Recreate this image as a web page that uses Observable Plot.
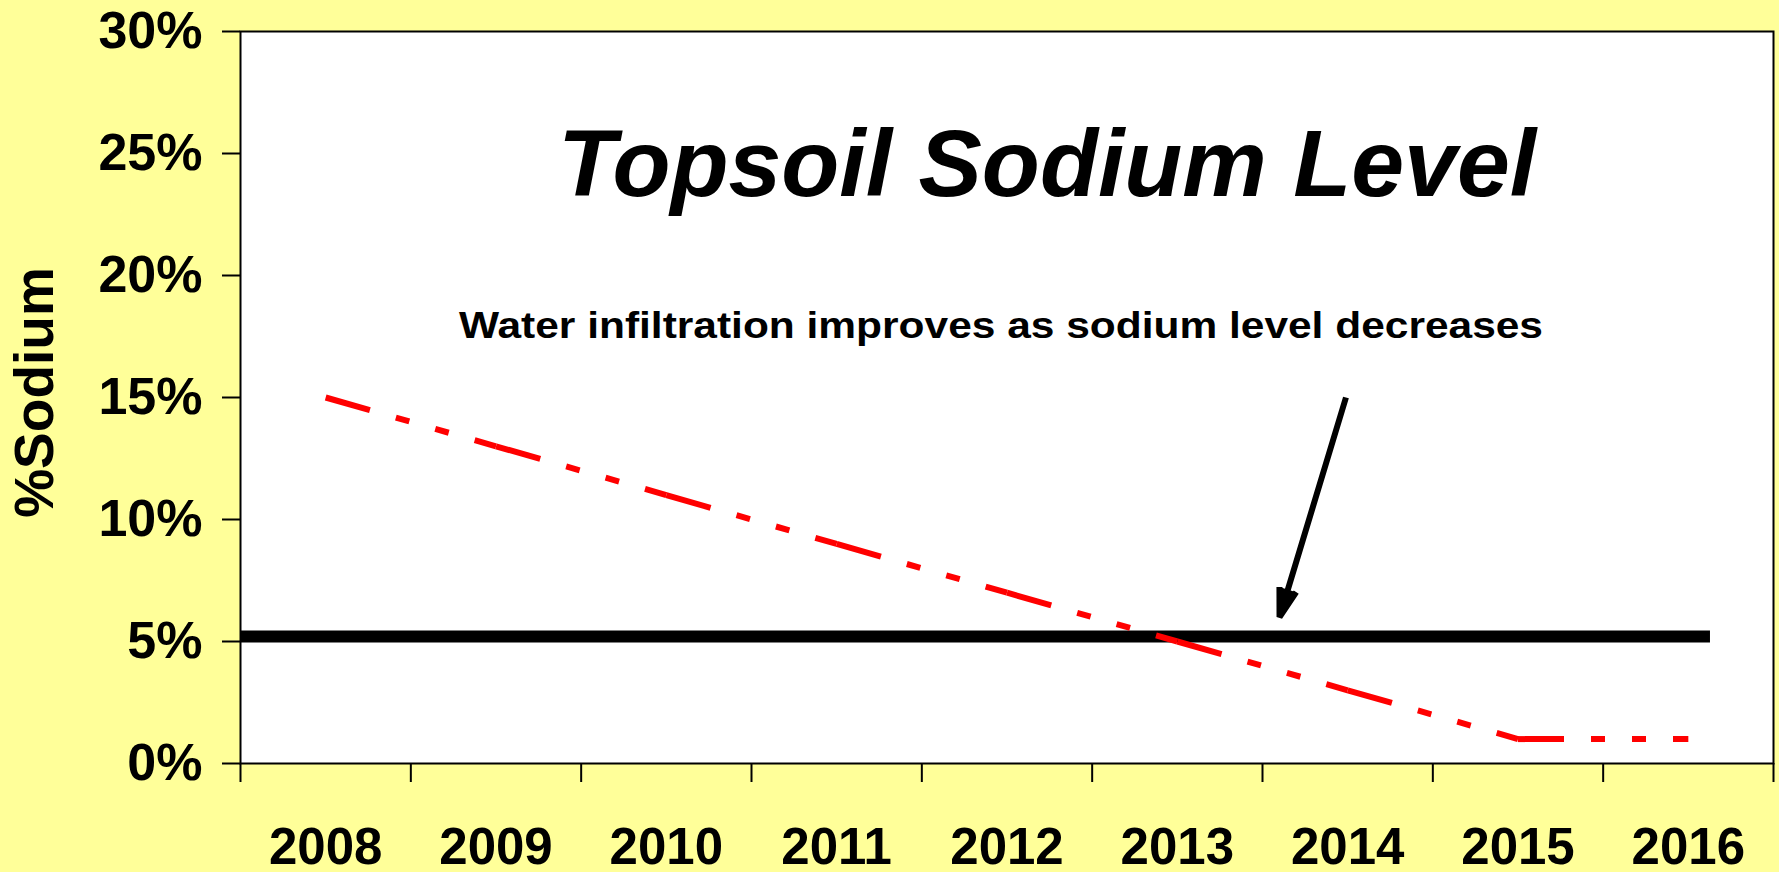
<!DOCTYPE html>
<html>
<head>
<meta charset="utf-8">
<script src="https://cdn.jsdelivr.net/npm/d3@7"></script>
<script src="https://cdn.jsdelivr.net/npm/@observablehq/plot@0.6"></script>
<style>
  html, body { margin: 0; padding: 0; background: #FFFF99; overflow: hidden; }
  #chart svg { display: block; }
</style>
</head>
<body>
<div id="chart"></div>
<script>
// ---- data ----
const years = [2008, 2009, 2010, 2011, 2012, 2013, 2014, 2015, 2016];
const yearLabels = ["2008", "2009", "2010", "2011", "2012", "2013", "2014", "2015", "2016"];
const sodium = [0.15, 0.13, 0.11, 0.09, 0.07, 0.05, 0.03, 0.01, 0.01];
const yTicks = [0, 0.05, 0.10, 0.15, 0.20, 0.25, 0.30];
const yTickLabels = ["0%", "5%", "10%", "15%", "20%", "25%", "30%"];
const yearBoundaries = [2007.5, 2008.5, 2009.5, 2010.5, 2011.5, 2012.5, 2013.5, 2014.5, 2015.5, 2016.5];
const thresholdLevel = 0.052;
const thresholdFrom = 2007.5;
const thresholdTo = 2016.13;
const arrowStart = [2013.99, 0.150];
const arrowEnd = [2013.60, 0.060];
const titleText = "Topsoil Sodium Level";
const noteText = "Water infiltration improves as sodium level decreases";
const yLabelText = "%Sodium";

// ---- derived tables ----
const segments = years.slice(0, -1).map((yr, i) => ({
  x1: yr, y1: sodium[i], x2: years[i + 1], y2: sodium[i + 1]
}));
const threshold = [{y: thresholdLevel, x1: thresholdFrom, x2: thresholdTo}];
const arrow = [{x1: arrowStart[0], y1: arrowStart[1], x2: arrowEnd[0], y2: arrowEnd[1]}];

const font = "'Liberation Sans', Arial, Helvetica, sans-serif";

const chart = Plot.plot({
  width: 1779,
  height: 872,
  marginLeft: 240,
  marginRight: 6,
  marginTop: 31,
  marginBottom: 109,
  x: {domain: [2007.5, 2016.5]},
  y: {domain: [0, 0.30]},
  style: {background: "#FFFF99", fontFamily: font, color: "black", overflow: "visible"},
  marks: [
    Plot.frame({fill: "white", stroke: "none"}),
    Plot.ruleY(threshold, {y: "y", x1: "x1", x2: "x2", stroke: "black", strokeWidth: 12}),
    Plot.link(segments, {
      x1: "x1", y1: "y1", x2: "x2", y2: "y2",
      stroke: "#FF0000", strokeWidth: 6, strokeLinecap: "butt",
      strokeDasharray: "46,27,14,27,14,27"
    }),
    Plot.arrow(arrow, {
      x1: "x1", y1: "y1", x2: "x2", y2: "y2",
      stroke: "black", fill: "black", strokeWidth: 6,
      strokeLinecap: "butt", headLength: 7.5, headAngle: 34
    }),
    Plot.frame({stroke: "black", strokeWidth: 2}),
    Plot.axisY({
      ticks: yTicks, tickFormat: (d, i) => yTickLabels[i],
      tickSize: 18, tickPadding: 20, strokeWidth: 2,
      fontSize: 52, fontWeight: "bold", label: null
    }),
    Plot.axisX({
      ticks: yearBoundaries, tickFormat: () => "",
      tickSize: 19, strokeWidth: 2, label: null
    }),
    Plot.axisX({
      ticks: years, tickFormat: (d, i) => yearLabels[i],
      tickSize: 0, tickPadding: 64,
      fontSize: 51, fontWeight: "bold", label: null
    }),
    Plot.text([titleText], {
      text: d => d, frameAnchor: "top", dx: 40, dy: 164, lineAnchor: "bottom",
      fontSize: 95, fontWeight: "bold", fontStyle: "italic", fill: "black"
    }),
    Plot.text([noteText], {
      text: d => d, frameAnchor: "top", dx: -6, dy: 306, lineAnchor: "bottom",
      fontSize: 36, fontWeight: "bold", fill: "black"
    }),
    Plot.text([yLabelText], {
      text: d => d, frameAnchor: "left", textAnchor: "middle",
      dx: -205, dy: -5, rotate: -90,
      fontSize: 55, fontWeight: "bold", fill: "black"
    })
  ]
});

document.getElementById("chart").appendChild(chart);

// The note's lettering is horizontally stretched in the original.
d3.select(chart).selectAll("text")
  .filter(function() { return this.textContent === noteText; })
  .attr("textLength", 1084)
  .attr("lengthAdjust", "spacingAndGlyphs");
</script>
</body>
</html>
